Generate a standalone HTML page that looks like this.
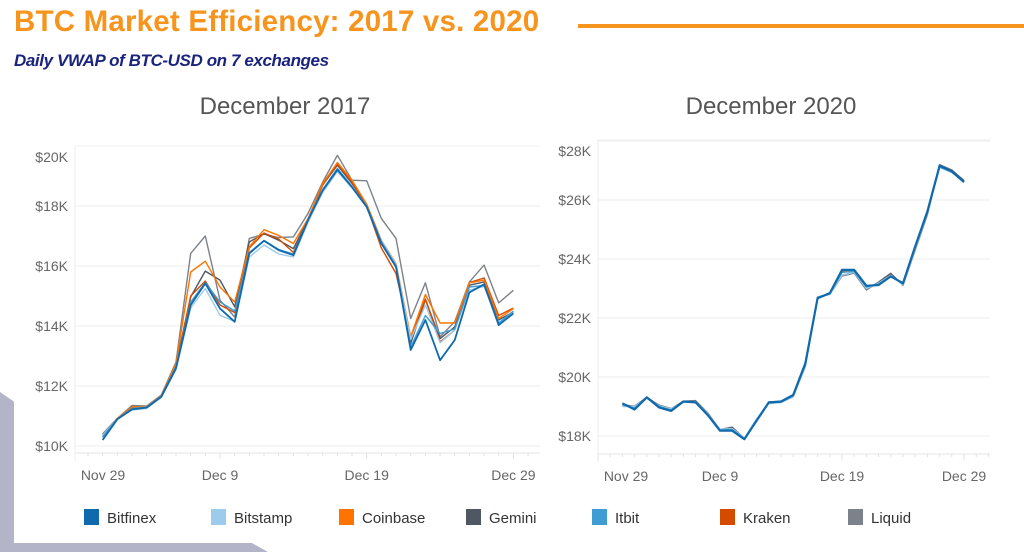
<!DOCTYPE html>
<html><head><meta charset="utf-8">
<style>
body{margin:0;width:1024px;height:552px;background:#fff;overflow:hidden;font-family:"Liberation Sans",sans-serif;position:relative}
.abs{position:absolute}
</style></head>
<body>
<div class="abs" style="left:0;top:392px;width:14px;height:160px;background:#b4b4c8;clip-path:polygon(0 0,100% 6%,100% 100%,0 100%)"></div>
<div class="abs" style="left:0;top:543px;width:268px;height:9px;background:#b4b4c8;clip-path:polygon(0 0,94% 0,100% 100%,0 100%)"></div>
<div class="abs" style="left:14px;top:5px;font-size:29.5px;font-weight:bold;color:#f7941d;white-space:nowrap;letter-spacing:0.2px">BTC Market Efficiency: 2017 vs. 2020</div>
<div class="abs" style="left:578px;top:24px;width:446px;height:4px;background:#f7941d"></div>
<div class="abs" style="left:14px;top:51px;font-size:17px;font-style:italic;font-weight:bold;color:#1a237e;letter-spacing:-0.4px">Daily VWAP of BTC-USD on 7 exchanges</div>
<svg class="abs" style="left:0;top:0" width="1024" height="552" id="chart"></svg>
<script>
const names=["Liquid","Gemini","Kraken","Coinbase","Bitstamp","Itbit","Bitfinex"];
const colors={Bitfinex:"#0f69ad",Bitstamp:"#9dcbeb",Coinbase:"#ff7300",Gemini:"#4f5762",Itbit:"#3f9dd3",Kraken:"#d44b00",Liquid:"#7c828b"};
const legendOrder=["Bitfinex","Bitstamp","Coinbase","Gemini","Itbit","Kraken","Liquid"];
const days=[2,3,4,5,6,7,8,9,10,11,12,13,14,15,16,17,18,19,20,21,22,23,24,25,26,27,28,29,30];
const xTickDays=[0,10,20,30];
const xTickLabels=["Nov 29","Dec 9","Dec 19","Dec 29"];
const yTicks2017=[10,12,14,16,18,20];
const yTicks2020=[18,20,22,24,26,28];
// 2017 series ($K)
const bitfinex17=[10.2,10.89,11.22,11.28,11.64,12.59,14.7,15.42,14.58,14.14,16.42,16.84,16.53,16.36,17.53,18.52,19.21,18.63,17.97,16.75,15.97,13.2,14.2,12.86,13.53,15.12,15.39,14.03,14.42];
const itbit17=[10.3,10.9,11.25,11.3,11.66,12.65,14.8,15.45,14.8,14.5,16.45,16.85,16.55,16.4,17.55,18.55,19.25,18.65,18.0,16.8,16.0,13.3,14.35,13.75,13.9,15.3,15.35,14.1,14.5];
const bitstamp17=[10.35,10.9,11.2,11.25,11.62,12.55,14.6,15.25,14.36,14.15,16.3,16.7,16.4,16.3,17.45,18.45,19.15,18.6,17.95,16.85,16.05,13.55,14.7,13.44,13.86,15.2,15.32,14.1,14.45];
const coinbase17=[10.3,10.92,11.3,11.32,11.68,12.75,15.8,16.16,15.3,14.8,16.64,17.21,17.02,16.75,17.58,18.75,19.45,18.86,18.06,16.86,16.08,13.64,15.05,14.1,14.1,15.44,15.53,14.25,14.58];
const kraken17=[10.3,10.9,11.28,11.3,11.66,12.7,15.0,15.5,14.7,14.45,16.6,17.1,16.9,16.45,17.55,18.7,19.4,18.8,18.0,16.6,15.75,13.6,14.9,13.47,13.86,15.45,15.6,14.35,14.6];
const gemini17=[10.35,10.9,11.3,11.3,11.67,12.7,14.97,15.83,15.53,14.64,16.8,17.08,16.86,16.58,17.55,18.7,19.36,18.75,18.05,16.8,16.02,13.42,14.88,13.58,13.97,15.36,15.47,14.2,14.47];
const liquid17=[10.4,10.92,11.35,11.33,11.7,12.8,16.42,17.0,14.86,14.3,16.92,17.06,16.95,16.97,17.75,18.8,19.69,18.86,18.84,17.58,16.92,14.25,15.44,13.64,14.14,15.47,16.03,14.77,15.19];
// 2020 series ($K)
const bitfinex20=[19.11,18.9,19.31,18.97,18.85,19.17,19.14,18.71,18.18,18.18,17.89,18.52,19.14,19.17,19.39,20.47,22.67,22.84,23.63,23.63,23.09,23.12,23.41,23.18,24.43,25.61,27.16,26.97,26.61];
const itbit20=[19.05,18.95,19.3,19.0,18.88,19.16,19.15,18.73,18.2,18.22,17.9,18.55,19.12,19.15,19.36,20.4,22.7,22.82,23.55,23.58,23.05,23.15,23.42,23.15,24.4,25.6,27.12,26.95,26.6];
const bitstamp20=[19.0,19.0,19.28,19.02,18.92,19.15,19.16,18.75,18.22,18.25,17.92,18.58,19.1,19.13,19.33,20.35,22.72,22.8,23.45,23.55,23.0,23.18,23.45,23.12,24.35,25.55,27.1,26.93,26.62];
const coinbase20=[19.08,18.92,19.3,18.98,18.86,19.17,19.15,18.72,18.19,18.2,17.9,18.53,19.13,19.16,19.38,20.45,22.68,22.83,23.55,23.6,23.07,23.13,23.42,23.17,24.42,25.65,27.15,26.96,26.62];
const kraken20=[19.1,18.93,19.31,18.98,18.86,19.17,19.15,18.72,18.19,18.2,17.9,18.53,19.13,19.16,19.38,20.45,22.68,22.83,23.58,23.6,23.07,23.13,23.42,23.17,24.42,25.65,27.15,26.96,26.62];
const gemini20=[19.08,18.98,19.32,19.02,18.9,19.18,19.17,18.75,18.2,18.28,17.9,18.55,19.15,19.17,19.36,20.42,22.7,22.82,23.45,23.55,23.0,23.2,23.5,23.12,24.38,25.6,27.18,27.0,26.65];
const liquid20=[19.02,19.02,19.3,19.05,18.93,19.18,19.2,18.78,18.22,18.3,17.92,18.57,19.12,19.15,19.33,20.38,22.72,22.8,23.42,23.52,22.95,23.22,23.52,23.1,24.3,25.5,27.2,27.02,26.66];
const data17={Bitfinex:bitfinex17,Bitstamp:bitstamp17,Coinbase:coinbase17,Gemini:gemini17,Itbit:itbit17,Kraken:kraken17,Liquid:liquid17};
const data20={Bitfinex:bitfinex20,Bitstamp:bitstamp20,Coinbase:coinbase20,Gemini:gemini20,Itbit:itbit20,Kraken:kraken20,Liquid:liquid20};

const svg=document.getElementById('chart');
const NS="http://www.w3.org/2000/svg";
function mk(tag,attrs,parent){const e=document.createElementNS(NS,tag);for(const k in attrs)e.setAttribute(k,attrs[k]);(parent||svg).appendChild(e);return e;}

function drawChart(cfg){
  const g=mk('g',{});
  
  
  const x=d=>cfg.x0+(d-0)*cfg.dx;
  const y=v=>cfg.yBase-(v-cfg.vBase)*cfg.dy;
  const t=mk('text',{x:cfg.titleX,y:114,'font-size':24,fill:'#555','text-anchor':'middle'},g);
  t.textContent=cfg.title;
  
  
  cfg.yTicks.forEach(v=>{
    const l=mk('line',{x1:cfg.left,x2:cfg.right,y1:y(v),y2:y(v),stroke:'#ececec','stroke-width':1},g);
    
    
    const ly=Math.max(y(v)+5,cfg.top+16);
    const tx=mk('text',{x:cfg.labelX,y:ly,'font-size':14,fill:'#666','text-anchor':'end'},g);
    tx.textContent='$'+v+'K';
    
    
  });
  mk('line',{x1:cfg.left,x2:cfg.right,y1:cfg.top,y2:cfg.top,stroke:'#f2f2f2'},g);
  mk('line',{x1:cfg.left,x2:cfg.left,y1:cfg.top,y2:cfg.axisY+8,stroke:'#eee'},g);
  mk('line',{x1:cfg.left,x2:cfg.right,y1:cfg.axisY,y2:cfg.axisY,stroke:'#e6e6e6'},g);
  for(let d=0;d<=32;d++){const xx=x(d);if(xx<cfg.left||xx>cfg.right)continue;
    mk('line',{x1:xx,x2:xx,y1:cfg.axisY,y2:cfg.axisY+(d%10==0?6:3),stroke:'#e0e0e0'},g);}
  xTickDays.forEach((d,i)=>{
    let cx=x(d); if(i==0) cx=cfg.left+28;
    const tx=mk('text',{x:cx,y:cfg.axisY+27,'font-size':14,fill:'#666','text-anchor':'middle'},g);
    tx.textContent=xTickLabels[i];
    
    
  });
  names.forEach(n=>{
    const vals=cfg.data[n];
    const pts=vals.map((v,i)=>x(days[i]).toFixed(1)+','+y(v).toFixed(1)).join(' ');
    const p=mk('polyline',{points:pts,fill:'none',stroke:colors[n],'stroke-width':n=='Bitfinex'?cfg.mainW:1.4,'stroke-linejoin':'round'},g);
    
    
  });
}
drawChart({id:'chart-2017',title:'December 2017',titleX:285,data:data17,yTicks:yTicks2017,x0:73.3,dx:14.67,yBase:446,vBase:10,dy:30,left:75,right:540,top:146,axisY:453,labelX:68,mainW:1.8});
drawChart({id:'chart-2020',title:'December 2020',titleX:771,data:data20,yTicks:yTicks2020,x0:598,dx:12.2,yBase:436,vBase:18,dy:29.5,left:598,right:990,top:140,axisY:454,labelX:591,mainW:2.2});

const legX=[84,211,339,466,592,720,848];
legendOrder.forEach((n,i)=>{
  const g=mk('g',{});
  
  
  mk('rect',{x:legX[i],y:509,width:15,height:16,fill:colors[n]},g);
  const tx=mk('text',{x:legX[i]+23,y:523,'font-size':15,fill:'#333'},g);
  tx.textContent=n;
});
</script>
</body></html>
